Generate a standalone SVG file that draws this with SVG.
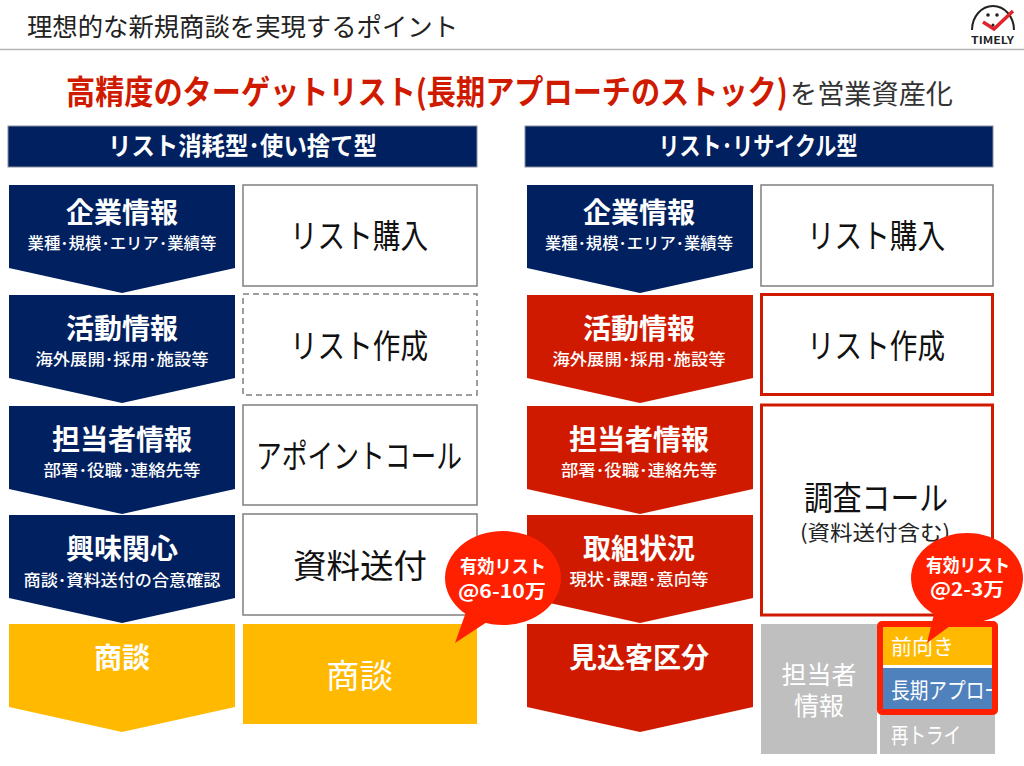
<svg xmlns="http://www.w3.org/2000/svg" width="1024" height="766" viewBox="0 0 1024 766">
<style>
text{font-family:"Noto Sans CJK JP","Noto Sans",sans-serif;text-anchor:middle}
.navy{fill:#002060}.red{fill:#d01a00}.org{fill:#ffb900}
.h{font-size:28px;font-weight:700;fill:#fff}
.s{font-size:16px;font-weight:500;fill:#fff}
.bar{font-size:25px;font-weight:700;fill:#fff}
.box{fill:#fff;stroke:#7f7f7f;stroke-width:1.5}
.rbox{fill:#fff;stroke:#d01a00;stroke-width:3}
.t{font-size:33px;font-weight:400;fill:#111}
.w{fill:#fff;font-weight:400}
.b{font-size:18px;font-weight:700;fill:#fff}
</style>
<defs>
<path id="chev" d="M0 0H226V83L113 108L0 83Z"/>
<clipPath id="blueclip"><rect x="883" y="668" width="109" height="41"/></clipPath>
</defs>
<rect width="1024" height="766" fill="#fff"/>
<g id="header">
<text x="27" y="36" textLength="431" lengthAdjust="spacingAndGlyphs" style="text-anchor:start;font-size:25.500px;fill:#222">理想的な新規商談を実現するポイント</text>
<path d="M0 49.500H1024" stroke="#b5b5b5" stroke-width="1.500"/>
</g>
<g id="logo">
<path d="M972 30A21 24 0 0 1 1014 30" fill="none" stroke="#222" stroke-width="2"/>
<circle cx="988" cy="15" r="1.800" fill="#222"/><circle cx="997" cy="15" r="1.800" fill="#222"/>
<path d="M983 22L994 29L1013 11" fill="none" stroke="#e0242c" stroke-width="3.500"/>
<circle cx="993" cy="25" r="1.500" fill="#222"/>
<text x="992.500" y="44" textLength="43" lengthAdjust="spacingAndGlyphs" style="font-size:10px;font-weight:700;fill:#222">TIMELY</text>
</g>
<g id="title">
<text transform="translate(66 104) scale(.884 1)" style="text-anchor:start;font-size:33px;font-weight:700;fill:#d01a00">高精度のターゲットリスト(長期アプローチのストック)</text>
<text x="790" y="104" textLength="163" lengthAdjust="spacingAndGlyphs" style="text-anchor:start;font-size:27px;fill:#333">を営業資産化</text>
</g>
<g id="bar-left"><rect x="8" y="126" width="469" height="41" class="navy" stroke="#8a8fa0"/><text x="242.500" y="155" textLength="269" lengthAdjust="spacingAndGlyphs" class="bar">リスト消耗型･使い捨て型</text></g>
<g id="bar-right"><rect x="525" y="126" width="468" height="41" class="navy" stroke="#8a8fa0"/><text x="758" y="155" textLength="199" lengthAdjust="spacingAndGlyphs" class="bar">リスト･リサイクル型</text></g>

<g id="l1"><use href="#chev" x="9" y="185" class="navy"/><text x="122" y="223" class="h">企業情報</text><text x="122" y="249" textLength="189" lengthAdjust="spacingAndGlyphs" class="s">業種･規模･エリア･業績等</text></g>
<g id="l2"><use href="#chev" x="9" y="295" class="navy"/><text x="122" y="339" class="h">活動情報</text><text x="122" y="365" textLength="173" lengthAdjust="spacingAndGlyphs" class="s">海外展開･採用･施設等</text></g>
<g id="l3"><use href="#chev" x="9" y="406" class="navy"/><text x="122" y="450" class="h">担当者情報</text><text x="122" y="476" textLength="157" lengthAdjust="spacingAndGlyphs" class="s">部署･役職･連絡先等</text></g>
<g id="l4"><use href="#chev" x="9" y="515" class="navy"/><text x="122" y="559" class="h">興味関心</text><text x="122" y="586" textLength="197" lengthAdjust="spacingAndGlyphs" class="s">商談･資料送付の合意確認</text></g>
<g id="l5"><use href="#chev" x="9" y="624" class="org"/><text x="122" y="668" class="h">商談</text></g>

<g id="lb1"><rect x="243" y="185" width="234" height="101" class="box"/><text x="359" y="248" textLength="138" lengthAdjust="spacingAndGlyphs" class="t">リスト購入</text></g>
<g id="lb2"><rect x="243" y="294" width="234" height="101" class="box" stroke-dasharray="6 4"/><text x="359" y="358" textLength="138" lengthAdjust="spacingAndGlyphs" class="t">リスト作成</text></g>
<g id="lb3"><rect x="243" y="405" width="234" height="100" class="box"/><text x="359" y="468" textLength="206" lengthAdjust="spacingAndGlyphs" class="t">アポイントコール</text></g>
<g id="lb4"><rect x="243" y="514" width="234" height="101" class="box"/><text x="360" y="578" textLength="134" lengthAdjust="spacingAndGlyphs" class="t">資料送付</text></g>
<g id="lb5"><rect x="243" y="624" width="234" height="100" class="org"/><text x="359.500" y="688" textLength="67" lengthAdjust="spacingAndGlyphs" class="t" style="fill:#fff">商談</text></g>

<g id="r1"><use href="#chev" x="527" y="185" class="navy"/><text x="639" y="223" class="h">企業情報</text><text x="639" y="249" textLength="188" lengthAdjust="spacingAndGlyphs" class="s">業種･規模･エリア･業績等</text></g>
<g id="r2"><use href="#chev" x="527" y="295" class="red"/><text x="639" y="339" class="h">活動情報</text><text x="639" y="365" textLength="173" lengthAdjust="spacingAndGlyphs" class="s">海外展開･採用･施設等</text></g>
<g id="r3"><use href="#chev" x="527" y="406" class="red"/><text x="639" y="450" class="h">担当者情報</text><text x="639" y="476" textLength="156" lengthAdjust="spacingAndGlyphs" class="s">部署･役職･連絡先等</text></g>
<g id="r4"><use href="#chev" x="527" y="515" class="red"/><text x="639" y="559" class="h">取組状況</text><text x="639" y="585" textLength="139" lengthAdjust="spacingAndGlyphs" class="s">現状･課題･意向等</text></g>
<g id="r5"><use href="#chev" x="527" y="624" class="red"/><text x="639" y="668" class="h">見込客区分</text></g>

<g id="rb1"><rect x="761" y="185" width="232" height="101" class="box"/><text x="876" y="248" textLength="138" lengthAdjust="spacingAndGlyphs" class="t">リスト購入</text></g>
<g id="rb2"><rect x="761.500" y="294.500" width="231" height="100" class="rbox"/><text x="876" y="358" textLength="138" lengthAdjust="spacingAndGlyphs" class="t">リスト作成</text></g>
<g id="rb3"><rect x="761.500" y="405" width="231" height="210" class="rbox"/><text x="876" y="510" textLength="144" lengthAdjust="spacingAndGlyphs" class="t">調査コール</text><text x="875" y="540" textLength="150" lengthAdjust="spacingAndGlyphs" style="font-size:21px;fill:#222">(資料送付含む)</text></g>

<g id="gray-contact"><rect x="761" y="624" width="116" height="130" fill="#bfbfbf"/><text style="font-size:25px" class="w"><tspan x="819" y="684">担当者</tspan><tspan x="819" y="715">情報</tspan></text></g>
<g id="gray-retry"><rect x="880" y="712" width="115" height="42" fill="#bfbfbf"/><text x="891" y="743" textLength="70" lengthAdjust="spacingAndGlyphs" style="font-size:22px;text-anchor:start" class="w">再トライ</text></g>
<g id="positive"><rect x="883" y="627" width="109" height="38" fill="#ffb900"/><text x="891" y="654" style="font-size:21px;text-anchor:start" class="w">前向き</text></g>
<g id="longterm"><rect x="883" y="668" width="109" height="41" fill="#4f81bd"/><text x="891" y="698" clip-path="url(#blueclip)" textLength="112" lengthAdjust="spacingAndGlyphs" style="font-size:22px;text-anchor:start" class="w">長期アプロー</text></g>
<g id="highlight"><rect x="880" y="624" width="115" height="88" rx="2" fill="none" stroke="#ff2000" stroke-width="6"/></g>

<g id="bubble-left"><ellipse cx="503" cy="578" rx="58" ry="47" fill="#ff2000"/><path d="M466 612L455 643L490 620Z" fill="#ff2000"/><text x="503" y="573" textLength="86" lengthAdjust="spacingAndGlyphs" class="b">有効リスト</text><text x="502" y="598" textLength="88" lengthAdjust="spacingAndGlyphs" class="b">@6-10万</text></g>
<g id="bubble-right"><ellipse cx="967" cy="578" rx="56" ry="45" fill="#ff2000"/><path d="M935 610L927 643L958 620Z" fill="#ff2000"/><text x="968" y="572" textLength="84" lengthAdjust="spacingAndGlyphs" class="b">有効リスト</text><text x="967" y="596" textLength="74" lengthAdjust="spacingAndGlyphs" class="b">@2-3万</text></g>
</svg>
